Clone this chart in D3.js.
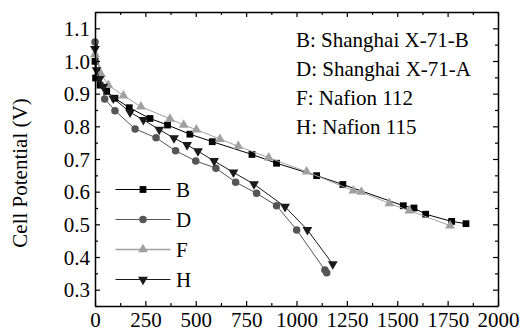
<!DOCTYPE html>
<html>
<head>
<meta charset="utf-8">
<script src="https://cdn.jsdelivr.net/npm/d3@7"></script>
<style>
  html, body { margin: 0; padding: 0; background: #fff; }
</style>
</head>
<body>
<svg id="chart" width="522" height="331"></svg>
<script>
// ---- data (current density, mA/cm2 ; cell potential, V) ----
const seriesNames = ["B", "D", "F", "H"];
const legendTexts = ["B: Shanghai X-71-B", "D: Shanghai X-71-A", "F: Nafion 112", "H: Nafion 115"];

const xB = [0, 3, 25, 58, 99, 170, 273, 360, 471, 582, 779, 901, 1100, 1230, 1530, 1583, 1641, 1770, 1841];
const yB = [0.999, 0.948, 0.926, 0.907, 0.886, 0.857, 0.824, 0.804, 0.776, 0.753, 0.714, 0.687, 0.649, 0.622, 0.557, 0.550, 0.531, 0.509, 0.502];

const xD = [0, 48, 99, 199, 303, 400, 500, 600, 698, 802, 901, 1001, 1141, 1150];
const yD = [1.058, 0.884, 0.848, 0.792, 0.765, 0.725, 0.694, 0.672, 0.629, 0.595, 0.557, 0.483, 0.360, 0.352];

const xF = [0, 30, 66, 141, 228, 372, 440, 503, 620, 711, 862, 1050, 1282, 1322, 1461, 1560, 1762];
const yF = [1.020, 0.960, 0.926, 0.894, 0.860, 0.823, 0.804, 0.790, 0.761, 0.739, 0.704, 0.661, 0.603, 0.599, 0.564, 0.542, 0.496];

const xH = [0, 8, 22, 41, 91, 174, 240, 319, 392, 457, 511, 591, 687, 789, 943, 1054, 1180];
const yH = [1.037, 0.972, 0.945, 0.922, 0.886, 0.843, 0.820, 0.790, 0.764, 0.743, 0.724, 0.694, 0.659, 0.623, 0.554, 0.483, 0.378];

const xTicks = [0, 250, 500, 750, 1000, 1250, 1500, 1750, 2000];
const yTicks = [0.3, 0.4, 0.5, 0.6, 0.7, 0.8, 0.9, 1.0, 1.1];
const xMinor = [125, 375, 625, 875, 1125, 1375, 1625, 1875];
const yMinor = [0.25, 0.35, 0.45, 0.55, 0.65, 0.75, 0.85, 0.95, 1.05, 1.15];
const yLabel = "Cell Potential (V)";

// ---- styling ----
const FONT = '"Liberation Serif", "Times New Roman", Times, serif';
const colors = { B: "#000000", D: "#555555", F: "#a0a0a0", H: "#1a1a1a" };
const FS = 21;

const svg = d3.select("#chart");
const L = 95, R = 498, T = 12, B = 306;
const x = d3.scaleLinear().domain([0, 2000]).range([L, R]);
const y = d3.scaleLinear().domain([0.25, 1.15]).range([B, T]);

const data = {
  B: xB.map((v, i) => [v, yB[i]]),
  D: xD.map((v, i) => [v, yD[i]]),
  F: xF.map((v, i) => [v, yF[i]]),
  H: xH.map((v, i) => [v, yH[i]])
};

function markerPath(name) {
  if (name === "B") return d3.symbol().type(d3.symbolSquare).size(46)();
  if (name === "D") return d3.symbol().type(d3.symbolCircle).size(44)();
  return d3.symbol().type(d3.symbolTriangle).size(42)();
}
function markerTransform(name, px, py) {
  return name === "H" ? `translate(${px},${py}) rotate(180)` : `translate(${px},${py})`;
}
function txt(sel) {
  return sel.style("font-family", FONT).style("font-size", FS + "px").attr("fill", "#000");
}

// ---- series ----
const line = d3.line().x(d => x(d[0])).y(d => y(d[1]));
seriesNames.forEach(name => {
  const g = svg.append("g");
  g.append("path").datum(data[name])
    .attr("d", line).attr("fill", "none")
    .attr("stroke", colors[name]).attr("stroke-width", 1);
  g.selectAll("path.m").data(data[name]).join("path").attr("class", "m")
    .attr("d", markerPath(name))
    .attr("transform", d => markerTransform(name, x(d[0]), y(d[1])))
    .attr("fill", colors[name]);
});

// ---- axes ----
function styleAxis(g) {
  g.attr("font-family", null).attr("font-size", null);
  g.select(".domain").attr("stroke", "#000").attr("stroke-width", 1.5);
  g.selectAll(".tick line").attr("stroke", "#000").attr("stroke-width", 1.2);
}
const gx = svg.append("g").attr("transform", `translate(0,${B})`)
  .call(d3.axisBottom(x).tickValues(xTicks).tickFormat(d3.format("d")).tickSizeInner(-5).tickSizeOuter(0));
styleAxis(gx);
txt(gx.selectAll("text")).attr("y", 20.5).attr("dy", null);

const gxm = svg.append("g").attr("transform", `translate(0,${B})`)
  .call(d3.axisBottom(x).tickValues(xMinor).tickFormat("").tickSizeInner(-3).tickSizeOuter(0));
styleAxis(gxm); gxm.select(".domain").remove();

const gy = svg.append("g").attr("transform", `translate(${L},0)`)
  .call(d3.axisLeft(y).tickValues(yTicks).tickFormat(d3.format(".1f")).tickSizeInner(-5).tickSizeOuter(0).tickPadding(5));
styleAxis(gy);
txt(gy.selectAll("text")).attr("dy", "0.34em");

const gym = svg.append("g").attr("transform", `translate(${L},0)`)
  .call(d3.axisLeft(y).tickValues(yMinor).tickFormat("").tickSizeInner(-3).tickSizeOuter(0));
styleAxis(gym); gym.select(".domain").remove();

// top and right (no labels)
const gt = svg.append("g").attr("transform", `translate(0,${T})`)
  .call(d3.axisTop(x).tickValues(xTicks).tickFormat("").tickSizeInner(-5).tickSizeOuter(0));
styleAxis(gt);
const gtm = svg.append("g").attr("transform", `translate(0,${T})`)
  .call(d3.axisTop(x).tickValues(xMinor).tickFormat("").tickSizeInner(-3).tickSizeOuter(0));
styleAxis(gtm); gtm.select(".domain").remove();
const gr = svg.append("g").attr("transform", `translate(${R},0)`)
  .call(d3.axisRight(y).tickValues(yTicks).tickFormat("").tickSizeInner(-5).tickSizeOuter(0));
styleAxis(gr);
const grm = svg.append("g").attr("transform", `translate(${R},0)`)
  .call(d3.axisRight(y).tickValues(yMinor).tickFormat("").tickSizeInner(-3).tickSizeOuter(0));
styleAxis(grm); grm.select(".domain").remove();

// ---- y label ----
txt(svg.append("text"))
  .attr("transform", `translate(27,173) rotate(-90)`)
  .attr("text-anchor", "middle")
  .text(yLabel);

// ---- top-right text legend ----
legendTexts.forEach((t, i) => {
  txt(svg.append("text")).attr("x", 296).attr("y", 47 + i * 29).text(t);
});

// ---- bottom-left marker legend ----
seriesNames.forEach((name, i) => {
  const cy = 189.5 + i * 30;
  const g = svg.append("g");
  g.append("line").attr("x1", 115.5).attr("x2", 170.5).attr("y1", cy).attr("y2", cy)
    .attr("stroke", colors[name]).attr("stroke-width", name === "F" ? 1.6 : 1.2);
  g.append("path").attr("d", markerPath(name))
    .attr("transform", markerTransform(name, 143, cy)).attr("fill", colors[name]);
  txt(g.append("text")).attr("x", 176).attr("y", cy + 7).text(name);
});
</script>
</body>
</html>
